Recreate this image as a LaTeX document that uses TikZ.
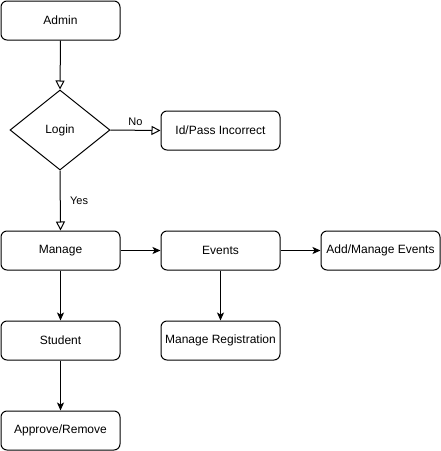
\documentclass[tikz,border=0pt]{standalone}
\usepackage{fontspec}
\setmainfont{Liberation Sans}
\usetikzlibrary{arrows.meta,shapes.geometric}
\begin{document}
\begin{tikzpicture}[x=1pt,y=-1pt,line width=1pt,
  box/.style={draw,rounded corners=6pt,minimum width=119pt,minimum height=39pt,inner sep=0pt,font=\fontsize{12}{14}\selectfont},
  dec/.style={draw,diamond,aspect=1.25,minimum width=100pt,minimum height=80pt,inner sep=0pt,font=\fontsize{12}{14}\selectfont},
  openarr/.style={-{Triangle[open,length=9pt,width=9pt]}},
  fillarr/.style={-{Stealth[length=8pt,width=7pt,inset=2pt]}},
  lab/.style={font=\fontsize{11}{13}\selectfont}]
\useasboundingbox[fill=white] (0,0) rectangle (441,451);
\node[box] (admin) at (60.5,20.5) {Admin};
\node[dec] (login) at (60,130) {Login};
\node[box] (idpass) at (220.5,130.5) {Id/Pass Incorrect};
\node[box] (manage) at (60.5,250.5) {Manage};
\node[box] (events) at (220.5,250.5) {Events};
\node[box] (addev) at (380.5,250.5) {Add/Manage Events};
\node[box] (student) at (60.5,340.5) {Student};
\node[box] (mreg) at (220.5,340.5) {Manage Registration};
\node[box] (appr) at (60.5,430.5) {Approve/Remove};
\draw[openarr] (admin.south) -- (login.north);
\draw[openarr] (login.east) -- node[lab,above=1pt,pos=0.5]{No} (idpass.west);
\draw[openarr] (login.south) -- node[lab,right=6pt,pos=0.5]{Yes} (manage.north);
\draw[fillarr] (manage.east) -- (events.west);
\draw[fillarr] (events.east) -- (addev.west);
\draw[fillarr] (events.south) -- (mreg.north);
\draw[fillarr] (manage.south) -- (student.north);
\draw[fillarr] (student.south) -- (appr.north);
\end{tikzpicture}
\end{document}
